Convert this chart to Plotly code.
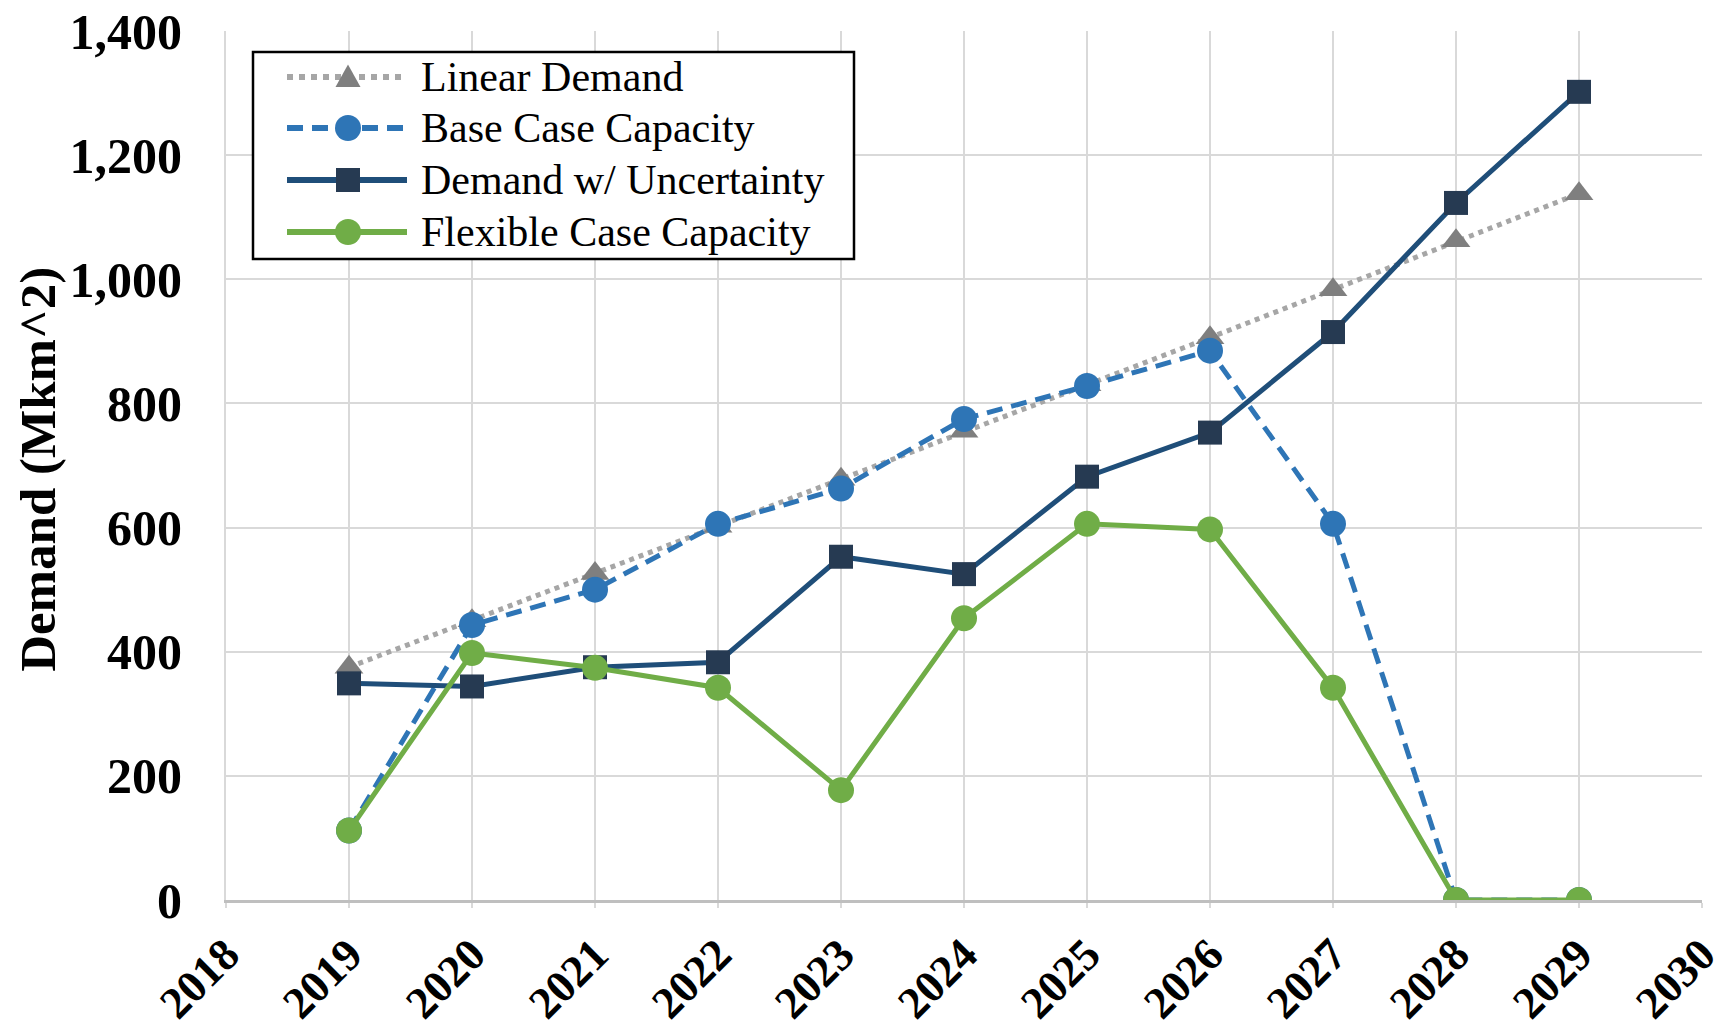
import plotly.graph_objects as go

years = [2019, 2020, 2021, 2022, 2023, 2024, 2025, 2026, 2027, 2028, 2029]
linear_demand = [375, 450, 526, 602, 678, 755, 830, 906, 983, 1062, 1138]
base_case_capacity = [112, 443, 500, 606, 663, 775, 828, 885, 606, 0, 0]
demand_uncertainty = [349, 344, 375, 383, 553, 525, 682, 753, 915, 1123, 1302]
flexible_capacity = [112, 398, 374, 342, 177, 454, 606, 597, 342, 0, 0]

series_names = ["Linear Demand", "Base Case Capacity",
                "Demand w/ Uncertainty", "Flexible Case Capacity"]
series_values = [linear_demand, base_case_capacity,
                 demand_uncertainty, flexible_capacity]

x_ticks = list(range(2018, 2031))
y_ticks = [0, 200, 400, 600, 800, 1000, 1200, 1400]

serif = "Liberation Serif"

# per-series styling: line colour, dash, marker symbol, marker colour, marker size
styles = [
    dict(line="#A6A6A6", dash="dot", width=5, symbol="triangle-up", mcolor="#7F7F7F", msize=25),
    dict(line="#2E75B6", dash="16px,9px", width=5, symbol="circle", mcolor="#2E75B6", msize=26),
    dict(line="#1F4E79", dash="solid", width=5, symbol="square", mcolor="#263A52", msize=24),
    dict(line="#70AD47", dash="solid", width=5, symbol="circle", mcolor="#70AD47", msize=26),
]

fig = go.Figure()
for name, vals, st in zip(series_names, series_values, styles):
    fig.add_trace(go.Scatter(
        x=years, y=vals, name=name, mode="lines+markers",
        line=dict(color=st["line"], width=st["width"], dash=st["dash"]),
        marker=dict(symbol=st["symbol"], size=st["msize"], color=st["mcolor"]),
        showlegend=False,
    ))

# legend box drawn with shapes so the sample lines can be long
plot_left, plot_w, plot_top, plot_h = 226, 1476, 31, 869
box_left_px, box_top_px, box_w, box_h = 253, 52, 601, 207
ax = (box_left_px - plot_left) / plot_w
ay = 1 - (box_top_px - plot_top) / plot_h
row_offsets = [25, 76, 128, 180]

shapes = [dict(
    type="rect", xref="paper", yref="paper", layer="above",
    xsizemode="pixel", ysizemode="pixel", xanchor=ax, yanchor=ay,
    x0=0, x1=box_w, y0=0, y1=-box_h,
    line=dict(color="black", width=2.5), fillcolor="white",
)]
annotations = []
for name, st, off in zip(series_names, styles, row_offsets):
    shapes.append(dict(
        type="line", xref="paper", yref="paper", layer="above",
        xsizemode="pixel", ysizemode="pixel", xanchor=ax, yanchor=ay,
        x0=34, x1=154, y0=-off, y1=-off,
        line=dict(color=st["line"], width=st["width"] + 1, dash=st["dash"]),
    ))
    cx, r = 95, st["msize"] / 2
    if st["symbol"] == "circle":
        shapes.append(dict(
            type="circle", xref="paper", yref="paper", layer="above",
            xsizemode="pixel", ysizemode="pixel", xanchor=ax, yanchor=ay,
            x0=cx - r, x1=cx + r, y0=-off - r, y1=-off + r,
            line=dict(width=0), fillcolor=st["mcolor"],
        ))
    elif st["symbol"] == "square":
        shapes.append(dict(
            type="rect", xref="paper", yref="paper", layer="above",
            xsizemode="pixel", ysizemode="pixel", xanchor=ax, yanchor=ay,
            x0=cx - r, x1=cx + r, y0=-off - r, y1=-off + r,
            line=dict(width=0), fillcolor=st["mcolor"],
        ))
    else:
        shapes.append(dict(
            type="path", xref="paper", yref="paper", layer="above",
            xsizemode="pixel", ysizemode="pixel", xanchor=ax, yanchor=ay,
            path=f"M{cx - r},{-off - r * 0.8} L{cx + r},{-off - r * 0.8} L{cx},{-off + r * 1.0} Z",
            line=dict(width=0), fillcolor=st["mcolor"],
        ))
    annotations.append(dict(
        text=name, xref="paper", yref="paper", x=ax, y=ay,
        xshift=166, yshift=-off, xanchor="left", yanchor="middle",
        showarrow=False, font=dict(family=serif, size=42, color="black"),
    ))

annotations.append(dict(
    text="<b>Demand (Mkm^2)</b>", textangle=-90,
    xref="paper", yref="paper", x=(38 - plot_left) / plot_w, y=0.495,
    xanchor="center", yanchor="middle", showarrow=False,
    font=dict(family=serif, size=51, color="black"),
))

fig.update_layout(
    width=1727, height=1033,
    margin=dict(l=plot_left, r=1727 - plot_left - plot_w, t=plot_top, b=1033 - plot_top - plot_h),
    paper_bgcolor="white", plot_bgcolor="white",
    font=dict(family=serif, color="black"),
    showlegend=False,
    xaxis=dict(
        range=[2018, 2030], tickmode="array", tickvals=x_ticks,
        ticktext=[str(v) for v in x_ticks], tickangle=-45,
        tickfont=dict(family=serif, size=45, color="black", weight="bold"),
        showgrid=True, gridcolor="#D9D9D9", gridwidth=2,
        showline=True, linecolor="#BFBFBF", linewidth=3,
        ticks="outside", ticklen=5, tickcolor="#D9D9D9", tickwidth=2,
        ticklabelstandoff=2, ticklabeloverflow="allow",
        zeroline=False, automargin=False,
    ),
    yaxis=dict(
        range=[0, 1400], tickmode="array", tickvals=y_ticks,
        ticktext=[f"{v:,}" for v in y_ticks],
        tickfont=dict(family=serif, size=50, color="black", weight="bold"),
        showgrid=True, gridcolor="#D9D9D9", gridwidth=2,
        showline=True, linecolor="#D9D9D9", linewidth=2,
        ticklabeloverflow="allow",
        zeroline=False, ticklabelstandoff=32, automargin=False,
    ),
    shapes=shapes,
    annotations=annotations,
)

fig.write_html("out.html")
